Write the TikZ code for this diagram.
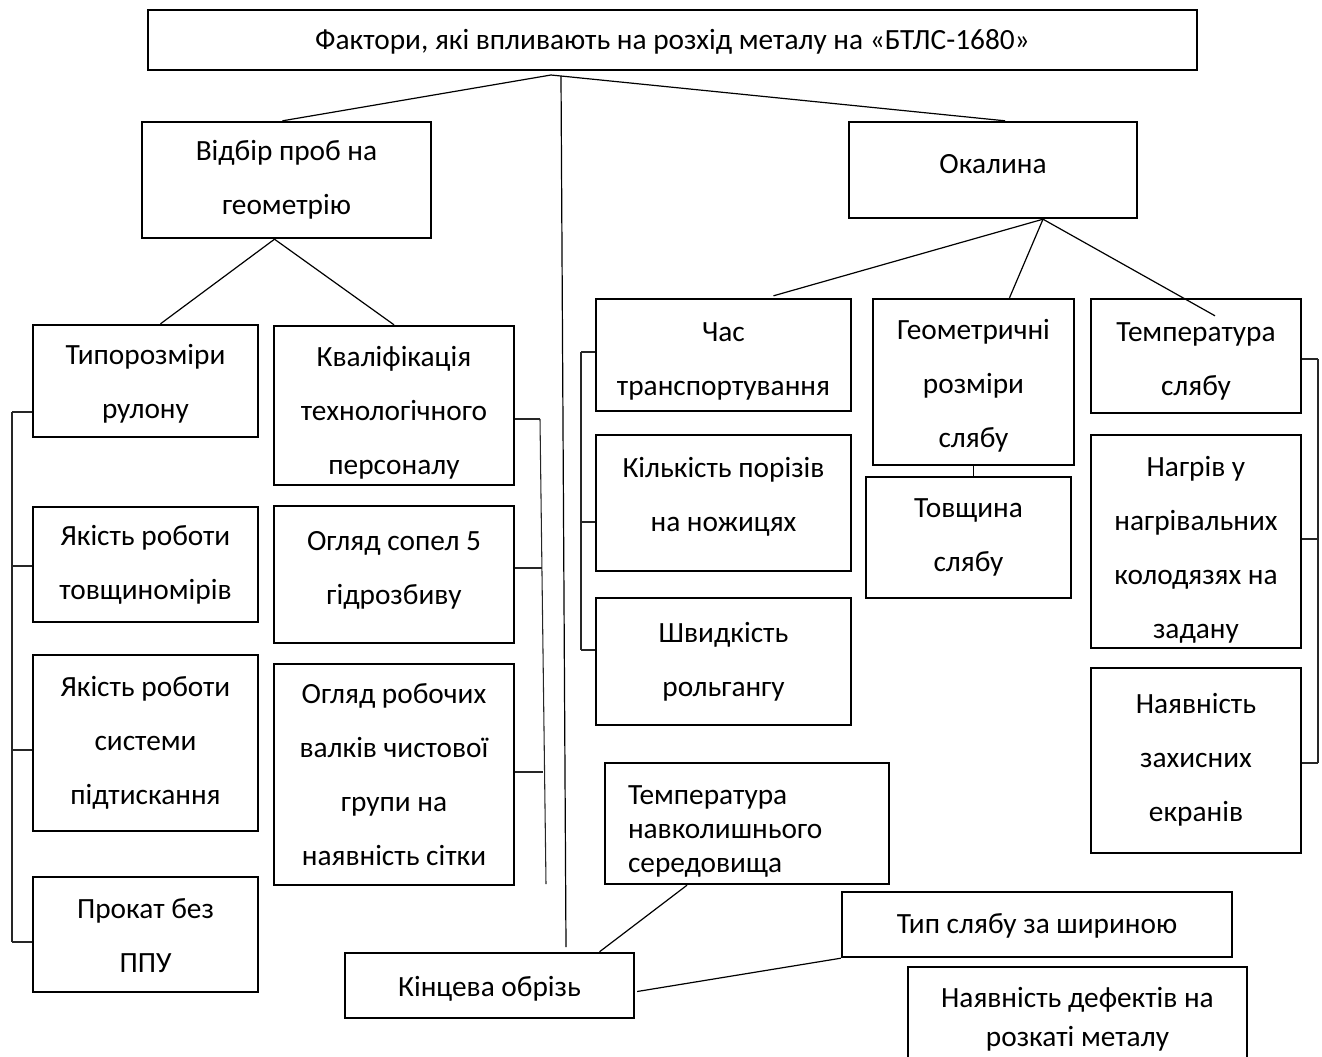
\documentclass[tikz,border=0pt]{standalone}
\usepackage{fontspec}
\setmainfont{Carlito}
\usetikzlibrary{calc}
% struts that move the text of a box down / up (argument in px)
\newcommand\dn[1]{\rule{0pt}{\dimexpr\fontcharht\font`Б+1.5pt*#1\relax}}
\newcommand\lift[1]{\rule[-\dimexpr1.5pt*#1\relax]{0pt}{\dimexpr1.5pt*#1\relax}}
\begin{document}
\begin{tikzpicture}[x=0.75pt, y=-0.75pt,
    box/.style={draw, rectangle, line width=1.8pt, inner sep=0pt, align=center,
                font=\fontsize{22}{40.5}\selectfont},
    sz/.style 2 args={minimum width=#1*0.75pt, minimum height=#2*0.75pt},
    link/.style={line width=0.9pt},
    brk/.style={line width=0.8pt, black!85}]
    \useasboundingbox (0,0) rectangle (1322,1057);

    % top level
    \node[box, sz={1049}{60}] (top) at (672.5,40)
        {\dn{2}Фактори, які впливають на розхід металу на «БТЛС-1680»};
    \node[box, sz={289}{116}] (vidbir)  at (286.5,180) {Відбір проб на\\геометрію};
    \node[box, sz={288}{96}]  (okalyna) at (993,170)   {Окалина\lift{6}};

    % left group
    \node[box, sz={225}{112}] (typorozmiry) at (145.5,381)   {\dn{3}Типорозміри\\рулону};
    \node[box, sz={225}{115}] (tovshch)     at (145.5,564.5) {Якість роботи\\товщиномірів};
    \node[box, sz={225}{176}] (pidtysk)     at (145.5,743)   {Якість роботи\\системи\\підтискання};
    \node[box, sz={225}{115}] (prokat)      at (145.5,934.5) {\dn{2}Прокат без\\ППУ};
    \node[box, sz={240}{159}] (kvalif) at (394,405.5) {\dn{8}Кваліфікація\\технологічного\\персоналу};
    \node[box, sz={240}{137}] (sopel)  at (394,574.5) {Огляд сопел 5\\гідрозбиву\lift{7}};
    \node[box, sz={240}{221}] (valky)  at (394,774.5) {Огляд робочих\\валків чистової\\групи на\\наявність сітки};

    % right group
    \node[box, sz={255}{112}] (chas)   at (723.5,355)   {\dn{6}Час\\транспортування};
    \node[box, sz={255}{136}] (porizy) at (723.5,503)   {Кількість порізів\\на ножицях\lift{9}};
    \node[box, sz={255}{127}] (shvydk) at (723.5,661.5) {Швидкість\\рольгангу};
    \node[box, sz={201}{166}] (geom)       at (973.5,382)   {\dn{4}Геометричні\\розміри\\слябу};
    \node[box, sz={205}{121}] (tovshchyna) at (968.5,537.5) {Товщина\\слябу};
    \node[box, sz={210}{114}] (tempsl) at (1196,356)   {\dn{5}Температура\\слябу};
    \node[box, sz={210}{213}] (nagriv) at (1196,541.5) {\dn{9}Нагрів у\\нагрівальних\\колодязях на\\задану};
    \node[box, sz={210}{185}] (ekrany) at (1196,760.5) {Наявність\\захисних\\екранів\lift{3}};

    % bottom
    \node[box, sz={284}{121}, align=left, text width=178.5pt, inner xsep=17.25pt,
          font=\fontsize{22}{25.5}\selectfont] (tempnavk) at (747,823.5)
        {\dn{8}Температура\\навколишнього\\середовища};
    \node[box, sz={289}{65}]  (kintseva) at (489.5,985.5) {\dn{4}Кінцева обрізь};
    \node[box, sz={390}{65}]  (typ)      at (1037,924.5)  {\dn{2}Тип слябу за шириною};
    \node[box, sz={339}{104}, font=\fontsize{22}{29}\selectfont] (defekty) at (1077.5,1019)
        {Наявність дефектів на\\розкаті металу};

    % connectors
    \coordinate (j1) at (551,75);
    \coordinate (j2) at (561,76);
    \coordinate (j3) at (566,947);
    \coordinate (j4) at ($(vidbir.south)+(-12,0)$);
    \coordinate (j5) at ($(okalyna.south)+(50,0)$);
    \draw[link] (j1) -- ($(vidbir.north)+(-4,0)$);
    \draw[link] (j1) -- ($(okalyna.north)+(12,0)$);
    \draw[link] (j2) -- (j3);
    \draw[link] (j4) -- ($(typorozmiry.north)+(15,0)$);
    \draw[link] (j4) -- (kvalif.north);
    \draw[link] (j5) -- ($(chas.north)+(50,-2)$);
    \draw[link] (j5) -- ($(geom.north)+(36,0)$);
    \draw[link] (j5) -- ($(tempsl.north)+(19,18)$);
    \draw[link] (geom.south) -- (geom.south |- tovshchyna.north);
    \draw[link] ($(tempnavk.south)+(-60,0)$) -- ($(kintseva.north)+(110,0)$);
    \draw[link] ($(kintseva.east)+(2,6)$) -- (typ.south west);

    % brackets
    \draw[brk] (12,412) -- (12,942);
    \foreach \n/\y in {typorozmiry/412, tovshch/566, pidtysk/750, prokat/942}
        \draw[brk] (\n.west |- 0,\y) -- (12,\y);
    \draw[brk] (540,419) -- (546,884);
    \draw[brk] (kvalif.east |- 0,419) -- (540,419);
    \draw[brk] (sopel.east |- 0,568) -- (542,568);
    \draw[brk] (valky.east |- 0,772) -- (543,772);
    \draw[brk] (581,352) -- (581,650);
    \foreach \n/\y in {chas/352, porizy/522, shvydk/650}
        \draw[brk] (\n.west |- 0,\y) -- (581,\y);
    \draw[brk] (1318,359) -- (1318,763);
    \foreach \n/\y in {tempsl/359, nagriv/539, ekrany/763}
        \draw[brk] (\n.east |- 0,\y) -- (1318,\y);
\end{tikzpicture}
\end{document}
